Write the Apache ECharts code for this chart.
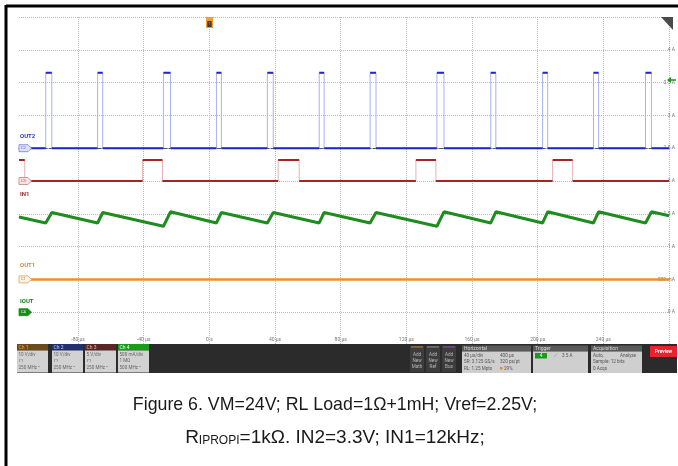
<!DOCTYPE html>
<html>
<head>
<meta charset="utf-8">
<script src="https://cdn.jsdelivr.net/npm/echarts/dist/echarts.min.js"></script>
<style>
html, body { margin: 0; padding: 0; background: #fff; }
#scope { width: 678px; height: 466px; }
</style>
</head>
<body>
<div id="scope"></div>
<script>
// time axis (µs)
var timeMin = -116, timeMax = 280;
var gridTimes = [-80, -40, 0, 40, 80, 120, 160, 200, 240, 280];
var timeLabels = [-80, -40, 0, 40, 80, 120, 160, 200, 240];
var currentTicks = [0, 0.5, 1, 1.5, 2, 2.5, 3, 3.5, 4];

// Ch2 OUT2 (V): pulse edges
var out2Rise = [-99.7, -68.1, -28.0, 4.3, 35.3, 66.9, 97.9, 138.6, 171.4, 203.0, 234.0, 265.7];
var out2Fall = [-96.0, -65.0, -23.7, 7.3, 38.9, 69.9, 101.5, 142.9, 174.5, 206.1, 237.1, 269.3];
var out2High = 23;

// Ch3 IN1 (V): 12 kHz input
var in1Rise = [-40.7, 41.9, 125.8, 209.1];
var in1Fall = [-112.5, -28.6, 54.7, 138.0, 221.3];
var in1High = 3.2;

// Ch4 IOUT (A)
var ioutTime = [-116, -99.7, -96.0, -68.1, -65.0, -28.0, -23.7, 4.3, 7.3, 35.3, 38.9, 66.9, 69.9,
                97.9, 101.5, 138.6, 142.9, 171.4, 174.5, 203.0, 206.1, 234.0, 237.1, 265.7, 269.3, 280];
var ioutAmps = [1.45, 1.36, 1.52, 1.36, 1.52, 1.31, 1.53, 1.36, 1.52, 1.36, 1.52, 1.36, 1.52,
                1.36, 1.52, 1.31, 1.53, 1.36, 1.53, 1.36, 1.53, 1.36, 1.53, 1.36, 1.53, 1.47];

// Ch1 OUT1 (V)
var out1Time = [-116, 280];
var out1Volts = [0, 0];

// builds the full step trace and the flat parts only (edges left as gaps)
function stepTrace(rises, falls, high, startHigh) {
    var ev = rises.map(function (t) { return [t, high]; })
        .concat(falls.map(function (t) { return [t, 0]; }))
        .sort(function (a, b) { return a[0] - b[0]; });
    var level = startHigh ? high : 0;
    var full = [[timeMin, level]], flat = [[timeMin, level]];
    ev.forEach(function (e) {
        full.push([e[0], level], [e[0], e[1]]);
        flat.push([e[0], level], [e[0], '-'], [e[0], e[1]]);
        level = e[1];
    });
    full.push([timeMax, level]);
    flat.push([timeMax, level]);
    return { full: full, flat: flat };
}

var out2 = stepTrace(out2Rise, out2Fall, out2High, false);
var in1 = stepTrace(in1Rise, in1Fall, in1High, true);
var iout = ioutTime.map(function (t, i) { return [t, ioutAmps[i]]; });
var out1 = out1Time.map(function (t, i) { return [t, out1Volts[i]]; });

var chartDom = document.getElementById('scope');
var scopeChart = echarts.init(chartDom);

function txt(x, y, s, color, size, extra) {
    var st = { text: s, x: x, y: y, fill: color, fontSize: size || 5, fontFamily: 'Roboto', verticalAlign: 'middle' };
    if (extra) { for (var k in extra) st[k] = extra[k]; }
    return { type: 'text', z: 20, style: st };
}
function rect(x, y, w, h, fill, extra) {
    var r = { type: 'rect', z: 15, shape: { x: x, y: y, width: w, height: h }, style: { fill: fill } };
    if (extra) { for (var k in extra) r.style[k] = extra[k]; }
    return r;
}
function badge(y, fill, stroke, label, color) {
    return [{
        type: 'polygon', z: 20,
        shape: { points: [[19, y - 3.5], [28, y - 3.5], [31.5, y], [28, y + 3.5], [19, y + 3.5]] },
        style: { fill: fill, stroke: stroke, lineWidth: 0.8 }
    }, txt(21, y, label, color, 4)];
}

var chBoxes = [
    { x: 17, head: '#6b4a1e', hc: '#f2a544', name: 'Ch 1', l: ['10 V/div', '⊓', '250 MHz ⁿ'] },
    { x: 52, head: '#22306e', hc: '#c8d0ff', name: 'Ch 2', l: ['10 V/div', '⊓', '250 MHz ⁿ'] },
    { x: 85, head: '#5a2626', hc: '#f2b4b4', name: 'Ch 3', l: ['5 V/div', '⊓', '250 MHz ⁿ'] },
    { x: 118, head: '#1c9a1c', hc: '#ffffff', name: 'Ch 4', l: ['500 mA/div', '1 MΩ', '500 MHz ⁿ'] }
];

var graphics = [
    // figure frame
    { type: 'line', z: 30, shape: { x1: 6, y1: 6, x2: 678, y2: 6 }, style: { stroke: '#000', lineWidth: 3 } },
    { type: 'line', z: 30, shape: { x1: 6, y1: 5, x2: 6, y2: 466 }, style: { stroke: '#000', lineWidth: 3 } },
    // trigger position marker
    rect(206, 17, 7, 11, '#f0a030'),
    rect(207.3, 21, 4.4, 6, '#3a3a3a'),
    txt(209.5, 24, 'T', '#f0a030', 4, { align: 'center' }),
    // corner triangle
    { type: 'polygon', z: 20, shape: { points: [[661, 17], [673, 17], [673, 30]] }, style: { fill: '#4a4a4a' } },
    // trigger level arrow
    { type: 'polygon', z: 20, shape: { points: [[667, 80], [671, 77], [671, 83]] }, style: { fill: '#1a9a1a' } },
    { type: 'line', z: 20, shape: { x1: 670, y1: 80, x2: 676, y2: 80 }, style: { stroke: '#1a9a1a', lineWidth: 1.5 } },
    // channel names
    txt(20, 136, 'OUT2', '#2a3ac0', 6, { fontWeight: 'bold' }),
    txt(20, 194, 'IN1', '#a02828', 6, { fontWeight: 'bold' }),
    txt(20, 265, 'OUT1', '#d88a30', 6, { fontWeight: 'bold' }),
    txt(20, 301, 'IOUT', '#1a7a1a', 6, { fontWeight: 'bold' }),
    // status bar
    rect(17, 344, 660, 29, '#2b2b2b')
];
graphics = graphics.concat(badge(148.2, '#dfe2fa', '#6f7fd8', 'C2', '#5060c0'));
graphics = graphics.concat(badge(181, '#f9e2e2', '#c48080', 'C3', '#a05050'));
graphics = graphics.concat(badge(279.4, '#fdf1e2', '#e2a060', 'C1', '#c07a30'));
graphics = graphics.concat(badge(312.2, '#1a8a1a', '#1a8a1a', 'C4', '#ffffff'));

chBoxes.forEach(function (b) {
    graphics.push(rect(b.x, 344, 31, 6.5, b.head));
    graphics.push(rect(b.x, 350.5, 31, 22, '#d2d2d2'));
    graphics.push(txt(b.x + 1.5, 347.3, b.name, b.hc, 5));
    graphics.push(txt(b.x + 1.5, 355, b.l[0], '#666', 4.6));
    graphics.push(txt(b.x + 1.5, 361, b.l[1], '#666', 4.6));
    graphics.push(txt(b.x + 1.5, 367.5, b.l[2], '#666', 4.6));
});

[['Math', '#e08a30', 410], ['Ref', '#9a9a9a', 426], ['Bus', '#9a4ad0', 442]].forEach(function (b) {
    graphics.push(rect(b[2], 346, 14, 26, '#3c3c3c'));
    graphics.push(rect(b[2] + 1, 346.5, 12, 0.9, b[1]));
    graphics.push(txt(b[2] + 7, 355, 'Add', '#b8b8b8', 4.6, { align: 'center' }));
    graphics.push(txt(b[2] + 7, 361, 'New', '#b8b8b8', 4.6, { align: 'center' }));
    graphics.push(txt(b[2] + 7, 366.5, b[0], '#b8b8b8', 4.6, { align: 'center' }));
});

[['Horizontal', 462, 69], ['Trigger', 533, 55], ['Acquisition', 591, 51]].forEach(function (b) {
    graphics.push(rect(b[1], 345.5, b[2], 6, '#5a5a5a'));
    graphics.push(rect(b[1], 351.5, b[2], 21.5, '#cfcfcf'));
    graphics.push(txt(b[1] + 2, 348.5, b[0], '#d8d8d8', 5));
});
graphics.push(
    txt(464, 355.5, '40 µs/div', '#555', 4.6), txt(500, 355.5, '400 µs', '#555', 4.6),
    txt(464, 362, 'SR: 3.125 GS/s', '#555', 4.6), txt(500, 362, '320 ps/pt', '#555', 4.6),
    txt(464, 368.5, 'RL: 1.25 Mpts', '#555', 4.6), rect(500, 367, 2.5, 2.5, '#e08a30'),
    txt(504, 368.5, '29%', '#555', 4.6),
    rect(535, 353, 12, 5.5, '#1c9a1c'), txt(541, 355.8, '4', '#fff', 4.6, { align: 'center' }),
    txt(554, 355.5, '⟋', '#777', 5), txt(562, 355.5, '3.5 A', '#555', 4.6),
    txt(593, 355.5, 'Auto,', '#555', 4.6), txt(620, 355.5, 'Analyze', '#555', 4.6),
    txt(593, 362, 'Sample: 12 bits', '#555', 4.6), txt(593, 368.5, '0 Acqs', '#555', 4.6),
    rect(650, 346, 27, 11, '#e8242a'),
    txt(663.5, 351.5, 'Preview', '#fff', 4.8, { align: 'center', fontWeight: 'bold' })
);

// caption
graphics.push({
    type: 'text', z: 20, x: 335, y: 405, scaleX: 0.935,
    style: {
        text: 'Figure 6. VM=24V; RL Load=1Ω+1mH; Vref=2.25V;',
        x: 0, y: 0, align: 'center', verticalAlign: 'middle',
        fontSize: 19, fontFamily: 'Liberation Sans', fill: '#1a1a1a'
    }
});
graphics.push({
    type: 'text', z: 20,
    style: {
        text: '{a|R}{s|IPROPI}{a|=1kΩ. IN2=3.3V; IN1=12kHz;}',
        x: 335, y: 438, align: 'center', verticalAlign: 'middle',
        rich: {
            a: { fontSize: 19, fontFamily: 'Liberation Sans', fill: '#1a1a1a', verticalAlign: 'bottom' },
            s: { fontSize: 12, fontFamily: 'Liberation Sans', fill: '#1a1a1a', verticalAlign: 'bottom', padding: [0, 0, 1, 0] }
        }
    }
});

var gridStyle = { color: '#b8b8b8', type: 'dotted', width: 1 };

option = {
    animation: false,
    backgroundColor: '#ffffff',
    grid: { left: 19, right: 7, top: 17, bottom: 121, containLabel: false },
    xAxis: [
        {
            type: 'value', min: timeMin, max: timeMax, position: 'bottom',
            axisLine: { show: false },
            axisTick: { show: false, customValues: gridTimes },
            splitLine: { show: true, lineStyle: gridStyle },
            axisLabel: {
                inside: true, margin: 3, fontSize: 5, color: '#777', fontFamily: 'Roboto',
                customValues: timeLabels,
                formatter: function (v) { return v === 0 ? '0 s' : v + ' µs'; }
            }
        },
        {
            type: 'value', min: timeMin, max: timeMax, position: 'top',
            axisLine: { show: true, lineStyle: { color: '#555', type: 'dashed', width: 1 } },
            axisTick: { show: false }, axisLabel: { show: false }, splitLine: { show: false }
        }
    ],
    yAxis: [
        {
            type: 'value', position: 'right', min: -0.5, max: 4.5, interval: 0.5,
            axisLine: { show: false }, axisTick: { show: false },
            splitLine: { show: true, lineStyle: gridStyle },
            axisLabel: {
                customValues: currentTicks, align: 'right', margin: 6,
                fontSize: 5, color: '#777', fontFamily: 'Roboto',
                formatter: function (v) { return v === 0.5 ? '500 mA' : v + ' A'; }
            }
        },
        { type: 'value', min: -60, max: 40, show: false },
        { type: 'value', min: -25, max: 25, show: false },
        { type: 'value', min: -20, max: 80, show: false }
    ],
    graphic: graphics,
    series: [
        {
            name: 'OUT2 edges', type: 'line', yAxisIndex: 1, data: out2.full,
            showSymbol: false, lineStyle: { color: '#aab2ee', width: 1 }, z: 3
        },
        {
            name: 'OUT2', type: 'line', yAxisIndex: 1, data: out2.flat, connectNulls: false,
            showSymbol: false, lineStyle: { color: '#1c26c8', width: 2 }, z: 4
        },
        {
            name: 'IN1 edges', type: 'line', yAxisIndex: 2, data: in1.full,
            showSymbol: false, lineStyle: { color: '#e2b2b2', width: 1 }, z: 3
        },
        {
            name: 'IN1', type: 'line', yAxisIndex: 2, data: in1.flat, connectNulls: false,
            showSymbol: false, lineStyle: { color: '#a82424', width: 2 }, z: 4
        },
        {
            name: 'IOUT', type: 'line', yAxisIndex: 0, data: iout,
            showSymbol: false, lineStyle: { color: '#1e8c1e', width: 3 }, z: 5
        },
        {
            name: 'OUT1', type: 'line', yAxisIndex: 3, data: out1,
            showSymbol: false, lineStyle: { color: '#e8922a', width: 2.5 }, z: 5
        }
    ]
};

option && scopeChart.setOption(option);

window.addEventListener('resize', function () {
    scopeChart.resize();
});
</script>
</body>
</html>
